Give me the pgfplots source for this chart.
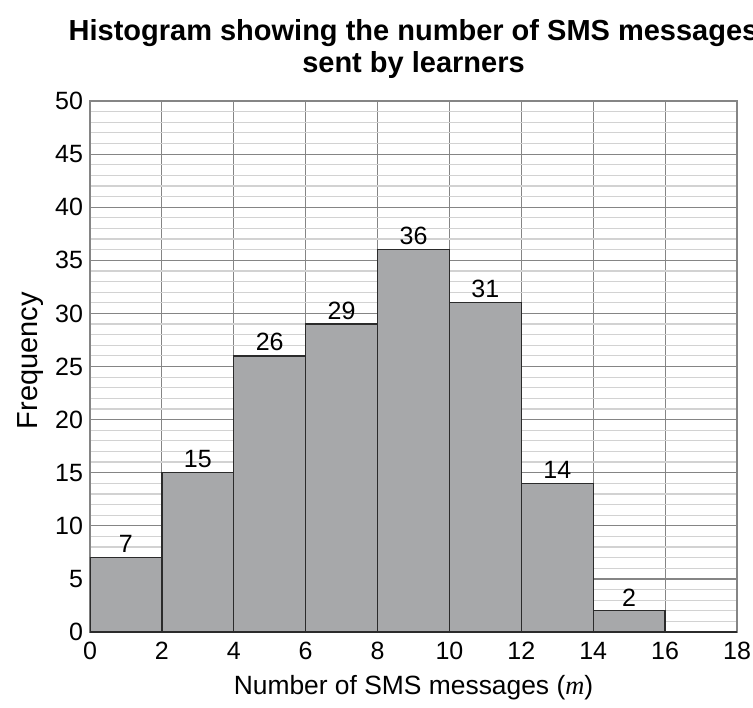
\documentclass[border=0pt]{standalone}
\usepackage{pgfplots}
\pgfplotsset{compat=1.18}
\usepackage{fontspec}
\setmainfont{Liberation Sans}
\newfontfamily\timesfont{Liberation Serif}
\definecolor{barfill}{HTML}{A7A8AA}
\definecolor{baredge}{HTML}{2B2B2B}
\definecolor{minorgrid}{HTML}{D2D2D2}
\definecolor{majorgrid}{HTML}{858585}
\begin{document}
\begin{tikzpicture}
\begin{axis}[
  name=a,
  scale only axis,
  width=323.5pt, height=265.5pt,
  xmin=0, xmax=18, ymin=0, ymax=50,
  xtick distance=2, ytick distance=5,
  minor y tick num=4,
  major tick length=0pt, minor tick length=0pt,
  grid=both,
  major grid style={majorgrid, line width=0.6pt},
  minor grid style={minorgrid, line width=0.6pt},
  axis line style={majorgrid, line width=0.7pt},
  /pgf/number format/assume math mode=true,
  ticklabel style={font=\fontsize{12.5}{14}\selectfont},
  xticklabel style={yshift=-1.5pt},
  yticklabel style={xshift=0pt},
  xlabel={Number of SMS messages ({\timesfont\itshape m})},
  ylabel={Frequency},
  xlabel style={font=\fontsize{13.2}{15}\selectfont, yshift=-1pt},
  ylabel style={font=\fontsize{14.5}{16}\selectfont, xshift=3pt, yshift=-1pt},
  title={Histogram showing the number of SMS messages\\sent by learners},
  title style={font=\fontsize{14.5}{16}\selectfont\bfseries, align=center, yshift=1.5pt},
  ybar, bar width=2, bar shift=0pt,
  nodes near coords,
  nodes near coords style={font=\fontsize{12.5}{14}\selectfont, inner sep=2pt},
]
\addplot[fill=barfill, draw=baredge, line width=0.7pt] coordinates {
(1,7) (3,15) (5,26) (7,29) (9,36) (11,31) (13,14) (15,2)
};
\draw[baredge, line width=0.7pt] (rel axis cs:0,0) -- (rel axis cs:1,0);
\end{axis}
\pgfresetboundingbox
\path[use as bounding box] ([shift={(-45pt,-37.5pt)}]a.south west) rectangle ([shift={(331.5pt,316pt)}]a.south west);
\end{tikzpicture}
\end{document}
